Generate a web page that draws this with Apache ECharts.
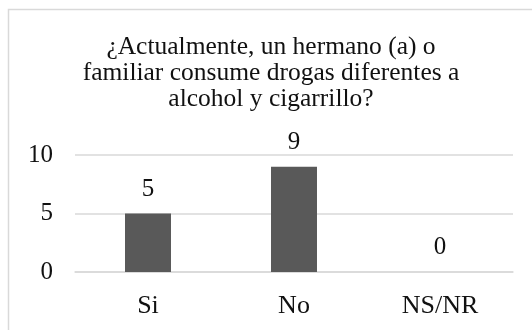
<!DOCTYPE html>
<html>
<head>
<meta charset="utf-8">
<script src="https://cdn.jsdelivr.net/npm/echarts@6/dist/echarts.min.js"></script>
<style>
  html, body { margin: 0; padding: 0; background: #fff; }
  #chart { width: 532px; height: 330px; }
</style>
</head>
<body>
<div id="chart"></div>
<script>
// Survey answers and counts
const categories = ['Si', 'No', 'NS/NR'];
const counts = [5, 9, 0];
const yTicks = [0, 5, 10];
const titleText = '¿Actualmente, un hermano (a) o\nfamiliar consume drogas diferentes a\nalcohol y cigarrillo?';

const serif = '"Liberation Serif", "Times New Roman", serif';
const chart = echarts.init(document.getElementById('chart'), null, { renderer: 'canvas' });

chart.setOption({
  animation: false,
  backgroundColor: '#ffffff',
  graphic: [{
    type: 'rect',
    shape: { x: 8.5, y: 9.5, width: 600, height: 400 },
    style: { fill: 'none', stroke: '#d9d9d9', lineWidth: 1.5 },
    silent: true
  }],
  title: {
    text: titleText,
    left: 271,
    textAlign: 'center',
    top: 34,
    padding: 0,
    textStyle: {
      fontFamily: serif,
      fontSize: 25.5,
      fontWeight: 'normal',
      color: '#111111',
      lineHeight: 26
    }
  },
  grid: { left: 75, right: 19, top: 155, bottom: 58 },
  xAxis: {
    type: 'category',
    data: categories,
    axisLine: { lineStyle: { color: '#d9d9d9', width: 1.5 } },
    axisTick: { show: false },
    axisLabel: {
      fontFamily: serif,
      fontSize: 26,
      color: '#111111',
      margin: 21
    }
  },
  yAxis: {
    type: 'value',
    min: yTicks[0],
    max: yTicks[yTicks.length - 1],
    interval: yTicks[1] - yTicks[0],
    axisLine: { show: false },
    axisTick: { show: false },
    splitLine: { lineStyle: { color: '#d9d9d9', width: 1.5 } },
    axisLabel: {
      fontFamily: serif,
      fontSize: 25,
      color: '#111111',
      margin: 22
    }
  },
  series: [{
    type: 'bar',
    data: counts,
    barWidth: '31.5%',
    itemStyle: { color: '#595959' },
    label: {
      show: true,
      position: 'top',
      distance: 12,
      fontFamily: serif,
      fontSize: 25,
      color: '#111111'
    }
  }]
});
</script>
</body>
</html>
